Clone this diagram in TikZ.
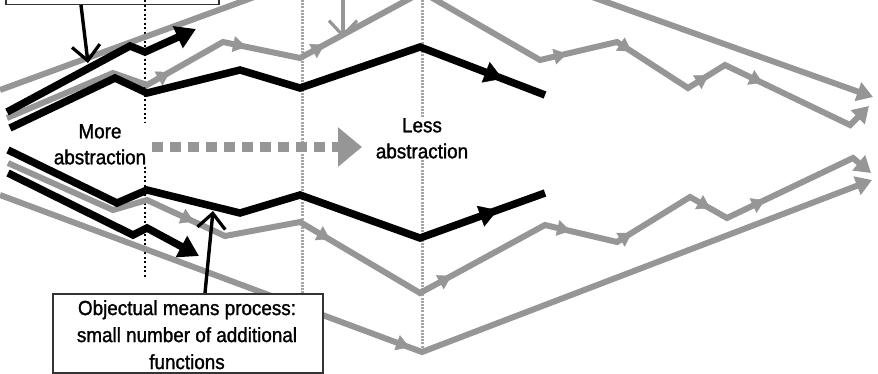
\documentclass[tikz,border=0pt]{standalone}
\usepackage{fontspec}
\setmainfont{Liberation Sans}
\newfontfamily\lblfont{Liberation Sans}[FakeBold=1.3, FakeStretch=0.92]
\usetikzlibrary{arrows.meta,decorations.markings}
\definecolor{lgray}{RGB}{150,150,150}
\definecolor{dgray}{RGB}{165,165,165}
\tikzset{
  grayline/.style={draw=lgray, line width=6pt, line join=miter},
  blackline/.style={draw=black, line width=7.5pt, line join=miter},
  graytip/.style={-{Triangle[length=16pt,width=19pt]}},
  blacktip/.style={-{Triangle[length=20pt,width=23pt]}},
  midg/.style={postaction={decorate}, decoration={markings, mark=at position #1 with {\arrow[lgray]{Triangle[length=13pt,width=16pt]}}}},
  midb/.style={postaction={decorate}, decoration={markings, mark=at position #1 with {\arrow[black]{Triangle[length=18pt,width=22pt]}}}},
  blackdot/.style={draw=black, line width=1.8pt, dash pattern=on 2pt off 2.5pt},
  graydot/.style={draw=dgray, line width=3pt, dash pattern=on 2pt off 1.2pt},
  pointer/.style={draw=black, line width=3.4pt, -{Straight Barb[length=15pt,width=28pt,line width=3.2pt]}},
  gpointer/.style={draw=lgray, line width=3.4pt, -{Straight Barb[length=15pt,width=28pt,line width=3.2pt]}},
  lbl/.style={align=center, inner sep=1pt, fill=white, font=\lblfont\fontsize{20.5}{26}\selectfont},
  boxtxt/.style={align=center, inner sep=0pt, font=\lblfont\fontsize{20.5}{27}\selectfont},
  frame/.style={draw=black!80, line width=1.5pt}
}
\begin{document}
\begin{tikzpicture}[x=1pt,y=-1pt]
\useasboundingbox (0,0) rectangle (878,373);
\clip (0,0) rectangle (878,373);

% vertical guide lines
\coordinate (d1a) at (145,0);   \coordinate (d1b) at (145,278);
\coordinate (d2a) at (302,0);   \coordinate (d2b) at (302,356);
\coordinate (d3a) at (422,0);   \coordinate (d3b) at (422,350);
\draw[blackdot] (d1a) -- (d1b);
\draw[graydot] (d2a) -- (d2b);
\draw[graydot] (d3a) -- (d3b);

% labels
\node[lbl, anchor=north] (more) at (100,123) {More\\abstraction};
\node[lbl, anchor=north] (less) at (422,117) {Less\\abstraction};

% dashed gray arrow
\coordinate (dashA) at (152,147);
\coordinate (dashB) at (362,147);
\draw[lgray, line width=10pt, dash pattern=on 11pt off 7pt, -{Triangle[length=24pt,width=38pt]}] (dashA) -- (dashB);

% gray paths
\draw[grayline, graytip] (0,90) -- (421,-64) -- (873,97);
\draw[grayline, graytip] (7,118) -- (113,73) -- (147,85) -- (223,42) -- (300,58) -- (422,-8) -- (540,60) -- (617,42) -- (688,88) -- (725,65) -- (850,125) -- (869,106);
\draw[grayline, graytip] (8,163) -- (113,210) -- (147,200) -- (225,236) -- (300,222) -- (420,293) -- (545,225) -- (617,242) -- (690,197) -- (727,218) -- (853,158) -- (871,173);
\draw[grayline, graytip] (0,195) -- (422,352) -- (872,180);

% gray mid arrows
\path[midg=0.3] (147,85) -- (223,42);
\path[midg=0.3] (223,42) -- (300,58);
\path[midg=0.2] (300,58) -- (422,-8);
\path[midg=0.35] (540,60) -- (617,42);
\path[midg=0.2] (617,42) -- (688,88);
\path[midg=0.55] (688,88) -- (725,65);
\path[midg=0.3] (725,65) -- (850,125);
\path[midg=0.6] (147,200) -- (225,236);
\path[midg=0.25] (300,222) -- (420,293);
\path[midg=0.25] (420,293) -- (545,225);
\path[midg=0.35] (545,225) -- (617,242);
\path[midg=0.2] (617,242) -- (690,197);
\path[midg=0.55] (690,197) -- (727,218);
\path[midg=0.3] (727,218) -- (853,158);
\path[midg=0.97] (0,195) -- (422,352);

% black paths
\draw[blackline, blacktip] (7,112) -- (130,46) -- (145,52) -- (196,29);
\draw[blackline] (10,128) -- (115,78) -- (147,93) -- (240,70) -- (300,88) -- (420,47) -- (545,95);
\path[midb=0.66] (420,47) -- (545,95);
\draw[blackline] (8,150) -- (117,203) -- (147,190) -- (240,213) -- (300,195) -- (420,238) -- (545,193);
\path[midb=0.62] (420,238) -- (545,193);
\draw[blackline, blacktip] (8,173) -- (133,235) -- (147,228) -- (199,256);

% boxes
\node[frame, anchor=south west, minimum width=213pt, minimum height=40pt, inner sep=0pt] (topbox) at (5,5) {};
\node[frame, fill=white, anchor=north west, minimum width=270pt, minimum height=79pt, inner sep=0pt] (botbox) at (52,293) {};
\node[boxtxt, anchor=north] (boxtext) at (187,300) {Objectual means process:\\small number of additional\\functions};

% pointers
\coordinate (p1) at (88,63);
\coordinate (p2) at (213,211);
\coordinate (p3) at (343,38);
\draw[pointer] (topbox.south west) ++(76,0) -- (p1);
\draw[pointer] (botbox.north west) ++(153,0) -- (p2);
\draw[gpointer] (343,-5) -- (p3);
\end{tikzpicture}
\end{document}
